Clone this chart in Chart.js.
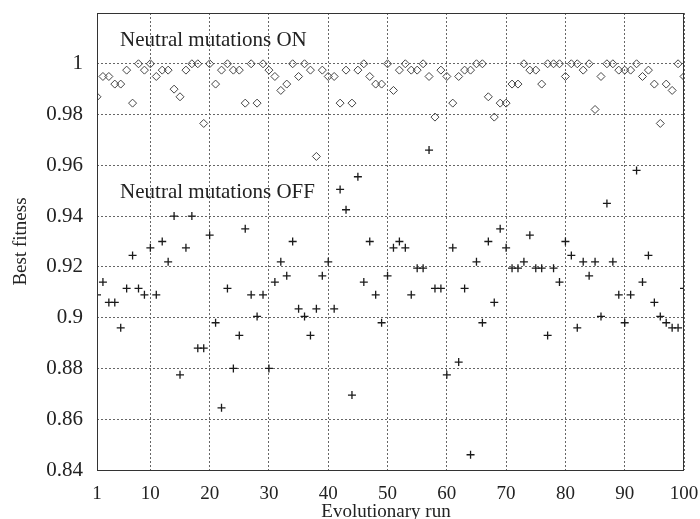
<!DOCTYPE html>
<html>
<head>
<meta charset="utf-8">
<script src="https://cdn.jsdelivr.net/npm/chart.js@4.4.1/dist/chart.umd.min.js"></script>
<style>
  html, body { margin: 0; padding: 0; background: #fff; }
  #wrap { width: 700px; height: 519px; }
</style>
</head>
<body>
<div id="wrap"><canvas id="chart" width="700" height="519"></canvas></div>
<script>
// runs 1..100
const runs = [
  1, 2, 3, 4, 5, 6, 7, 8, 9, 10, 11, 12, 13, 14, 15, 16, 17, 18, 19, 20,
  21, 22, 23, 24, 25, 26, 27, 28, 29, 30, 31, 32, 33, 34, 35, 36, 37, 38, 39, 40,
  41, 42, 43, 44, 45, 46, 47, 48, 49, 50, 51, 52, 53, 54, 55, 56, 57, 58, 59, 60,
  61, 62, 63, 64, 65, 66, 67, 68, 69, 70, 71, 72, 73, 74, 75, 76, 77, 78, 79, 80,
  81, 82, 83, 84, 85, 86, 87, 88, 89, 90, 91, 92, 93, 94, 95, 96, 97, 98, 99, 100
];

// best fitness, neutral mutations ON (diamonds)
const fitnessOn = [
  0.987, 0.995, 0.995, 0.992, 0.992, 0.9975, 0.9845, 1.0, 0.9975, 1.0,
  0.995, 0.9975, 0.9975, 0.99, 0.987, 0.9975, 1.0, 1.0, 0.9765, 1.0,
  0.992, 0.9975, 1.0, 0.9975, 0.9975, 0.9845, 1.0, 0.9845, 1.0, 0.9975,
  0.995, 0.9895, 0.992, 1.0, 0.995, 1.0, 0.9975, 0.9635, 0.9975, 0.995,
  0.995, 0.9845, 0.9975, 0.9845, 0.9975, 1.0, 0.995, 0.992, 0.992, 1.0,
  0.9895, 0.9975, 1.0, 0.9975, 0.9975, 1.0, 0.995, 0.979, 0.9975, 0.995,
  0.9845, 0.995, 0.9975, 0.9975, 1.0, 1.0, 0.987, 0.979, 0.9845, 0.9845,
  0.992, 0.992, 1.0, 0.9975, 0.9975, 0.992, 1.0, 1.0, 1.0, 0.995,
  1.0, 1.0, 0.9975, 1.0, 0.982, 0.995, 1.0, 1.0, 0.9975, 0.9975,
  0.9975, 1.0, 0.995, 0.9975, 0.992, 0.9765, 0.992, 0.9895, 1.0, 0.995
];

// best fitness, neutral mutations OFF (crosses)
const fitnessOff = [
  0.909, 0.914, 0.906, 0.906, 0.896, 0.9115, 0.9245, 0.9115, 0.909, 0.9275,
  0.909, 0.93, 0.922, 0.94, 0.8775, 0.9275, 0.94, 0.888, 0.888, 0.9325,
  0.898, 0.8645, 0.9115, 0.88, 0.893, 0.935, 0.909, 0.9005, 0.909, 0.88,
  0.914, 0.922, 0.9165, 0.93, 0.9035, 0.9005, 0.893, 0.9035, 0.9165, 0.922,
  0.9035, 0.9505, 0.9425, 0.8695, 0.9555, 0.914, 0.93, 0.909, 0.898, 0.9165,
  0.9275, 0.93, 0.9275, 0.909, 0.9195, 0.9195, 0.966, 0.9115, 0.9115, 0.8775,
  0.9275, 0.8825, 0.9115, 0.846, 0.922, 0.898, 0.93, 0.906, 0.935, 0.9275,
  0.9195, 0.9195, 0.922, 0.9325, 0.9195, 0.9195, 0.893, 0.9195, 0.914, 0.93,
  0.9245, 0.896, 0.922, 0.9165, 0.922, 0.9005, 0.945, 0.922, 0.909, 0.898,
  0.909, 0.958, 0.914, 0.9245, 0.906, 0.9005, 0.898, 0.896, 0.896, 0.9115
];

const xTicks = [1, 10, 20, 30, 40, 50, 60, 70, 80, 90, 100];
const yTicks = [0.84, 0.86, 0.88, 0.9, 0.92, 0.94, 0.96, 0.98, 1];
const seriesLabels = ['Neutral mutations ON', 'Neutral mutations OFF'];

const serif = '"Liberation Serif", "DejaVu Serif", serif';
Chart.defaults.font.family = serif;
Chart.defaults.color = '#222';

// text inside the plot, axis titles, frame
const decorPlugin = {
  id: 'decor',
  afterDraw(chart) {
    const { ctx, chartArea: a, scales: { x, y } } = chart;
    ctx.save();
    ctx.strokeStyle = '#333';
    ctx.lineWidth = 1;
    ctx.setLineDash([]);
    ctx.strokeRect(a.left + 0.5, a.top + 0.5, a.right - a.left - 1, a.bottom - a.top);

    ctx.fillStyle = '#222';
    ctx.font = '21px ' + serif;
    ctx.textBaseline = 'middle';
    ctx.textAlign = 'left';
    ctx.fillText(seriesLabels[0], x.getPixelForValue(4.9), y.getPixelForValue(1.0092));
    ctx.fillText(seriesLabels[1], x.getPixelForValue(4.9), y.getPixelForValue(0.9492));

    ctx.font = '19px ' + serif;
    ctx.textAlign = 'center';
    ctx.fillText('Evolutionary run', 386, 512);
    ctx.translate(21, (a.top + a.bottom) / 2);
    ctx.rotate(-Math.PI / 2);
    ctx.fillText('Best fitness', 0, 0);
    ctx.restore();
  }
};

const ctx = document.getElementById('chart').getContext('2d');
new Chart(ctx, {
  type: 'scatter',
  data: {
    datasets: [
      {
        label: seriesLabels[0],
        data: runs.map((r, i) => ({ x: r, y: fitnessOn[i] })),
        pointStyle: 'rectRot',
        radius: 4,
        borderWidth: 1,
        borderColor: '#444',
        backgroundColor: 'rgba(0,0,0,0)'
      },
      {
        label: seriesLabels[1],
        data: runs.map((r, i) => ({ x: r, y: fitnessOff[i] })),
        pointStyle: 'cross',
        radius: 4,
        borderWidth: 1.3,
        borderColor: '#1a1a1a',
        backgroundColor: '#1a1a1a'
      }
    ]
  },
  options: {
    responsive: false,
    animation: false,
    layout: { padding: { top: 13, right: 16, left: 0, bottom: 0 } },
    plugins: {
      legend: { display: false },
      tooltip: { enabled: false }
    },
    scales: {
      x: {
        type: 'linear',
        min: 1,
        max: 100,
        afterBuildTicks: (scale) => { scale.ticks = xTicks.map(v => ({ value: v })); },
        afterFit: (scale) => {
          scale.height = 49;
          scale.paddingLeft = 0;
          scale.paddingRight = 0;
        },
        grid: { color: '#666', lineWidth: 1, drawTicks: false },
        border: { display: false, dash: [2, 2] },
        ticks: { font: { size: 19 }, padding: 13, maxRotation: 0, autoSkip: false }
      },
      y: {
        min: 0.84,
        max: 1.02,
        afterBuildTicks: (scale) => { scale.ticks = yTicks.map(v => ({ value: v })); },
        afterFit: (scale) => {
          scale.width = 97;
          scale.paddingTop = 0;
          scale.paddingBottom = 0;
        },
        grid: { color: '#666', lineWidth: 1, drawTicks: false },
        border: { display: false, dash: [2, 2] },
        ticks: {
          font: { size: 21 },
          padding: 14,
          callback: (v) => String(Math.round(v * 100) / 100)
        }
      }
    }
  },
  plugins: [decorPlugin]
});
</script>
</body>
</html>
